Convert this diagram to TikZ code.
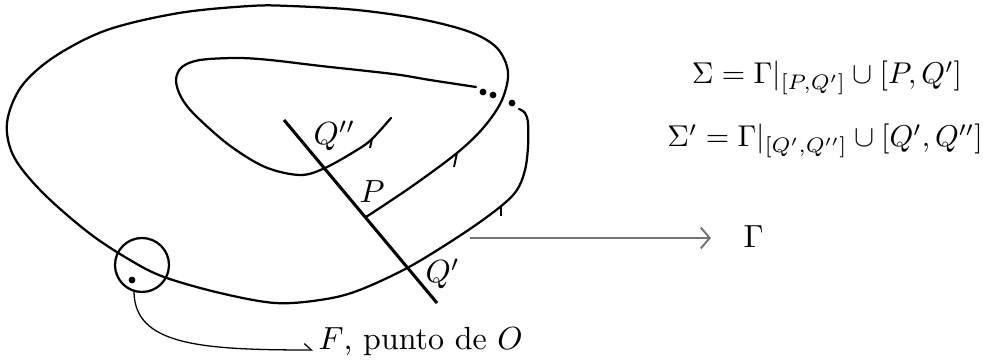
\documentclass[tikz,border=0pt]{standalone}
\usetikzlibrary{arrows.meta}
\begin{document}
\begin{tikzpicture}[x=0.3125pt,y=-0.3125pt,
  curve/.style={line width=0.7pt,line cap=round,line join=round},
  transv/.style={line width=0.95pt},
  tickmark/.style={line width=0.6pt},
  dotmark/.style={fill=black,draw=none},
  lbl/.style={inner sep=0pt,anchor=base west},
  formula/.style={inner sep=0pt,anchor=base,scale=0.94}]
\useasboundingbox (0,0) rectangle (983,362);
% transversal
\coordinate (T1) at (284,120);
\coordinate (T2) at (437,303);
\draw[transv] (T1) -- (T2);
% main curve Gamma
\draw[curve] plot[smooth,tension=0.55] coordinates {
 (366,217) (411,187) (457,153) (484,127) (502,100) (508,72) (497,48) (470,32)
 (420,19) (357,10) (290,6) (250,6) (179,13) (107,30) (54,57) (21,87) (7,123)
 (14,157) (43,193) (89,233) (130,260) (164,277) (220,293) (275,303) (320,300)
 (357,291) (409,267) (464,233) (500,207) (517,190) (525,170) (528,147) (528,123)
 (525,113) (519,109)};
% inner curve
\draw[curve] plot[smooth,tension=0.55] coordinates {
 (476,87) (430,80) (393,74) (321,66) (270,60) (237,58) (200,60) (182,67) (176,80)
 (181,97) (195,115) (229,145) (265,167) (300,175) (325,168) (357,150) (372,139) (391,118)};
% ticks
\draw[tickmark] (372,139) -- (370,148);
\draw[tickmark] (457,153) -- (454,167);
\draw[tickmark] (501,206) -- (501,216);
% dots
\fill[dotmark] (483,92) circle (3.4);
\fill[dotmark] (493,95) circle (3.4);
\fill[dotmark] (512,103) circle (3.4);
% circle F
\node[draw,circle,line width=0.7pt,minimum size=54*0.3125pt,inner sep=0pt] (C) at (142,265) {};
\fill[dotmark] (132,280) circle (3.4);
\coordinate (Fs) at (134,291);
% labels
\node[lbl] (Qpp) at (313,145) {$Q''$};
\node[lbl] (Plab) at (359,203) {$P$};
\node[lbl] (Qp) at (425,283) {$Q'$};
\node[lbl] (G) at (743,248) {$\Gamma$};
\node[lbl] (Ftext) at (318,350) {$F$, punto de $O$};
\coordinate (Fe) at (313,350);
\draw[line width=0.4pt,-{Straight Barb[left,length=2.2pt,width=4pt]}] (Fs) .. controls (134,345) and (200,350) .. (Fe);
\coordinate (Gs) at (470,238);
\coordinate (Ge) at (711,238);
\draw[line width=0.6pt,color=black!55,-{Straight Barb[length=2.8pt,width=6.5pt]}] (Gs) -- (Ge);
% formulas
\node[formula] (S1) at (827,84) {$\Sigma=\Gamma|_{[P,Q']}\cup[P,Q']$};
\node[formula] (S2) at (825,147) {$\Sigma'=\Gamma|_{[Q',Q'']}\cup[Q',Q'']$};
\end{tikzpicture}
\end{document}
